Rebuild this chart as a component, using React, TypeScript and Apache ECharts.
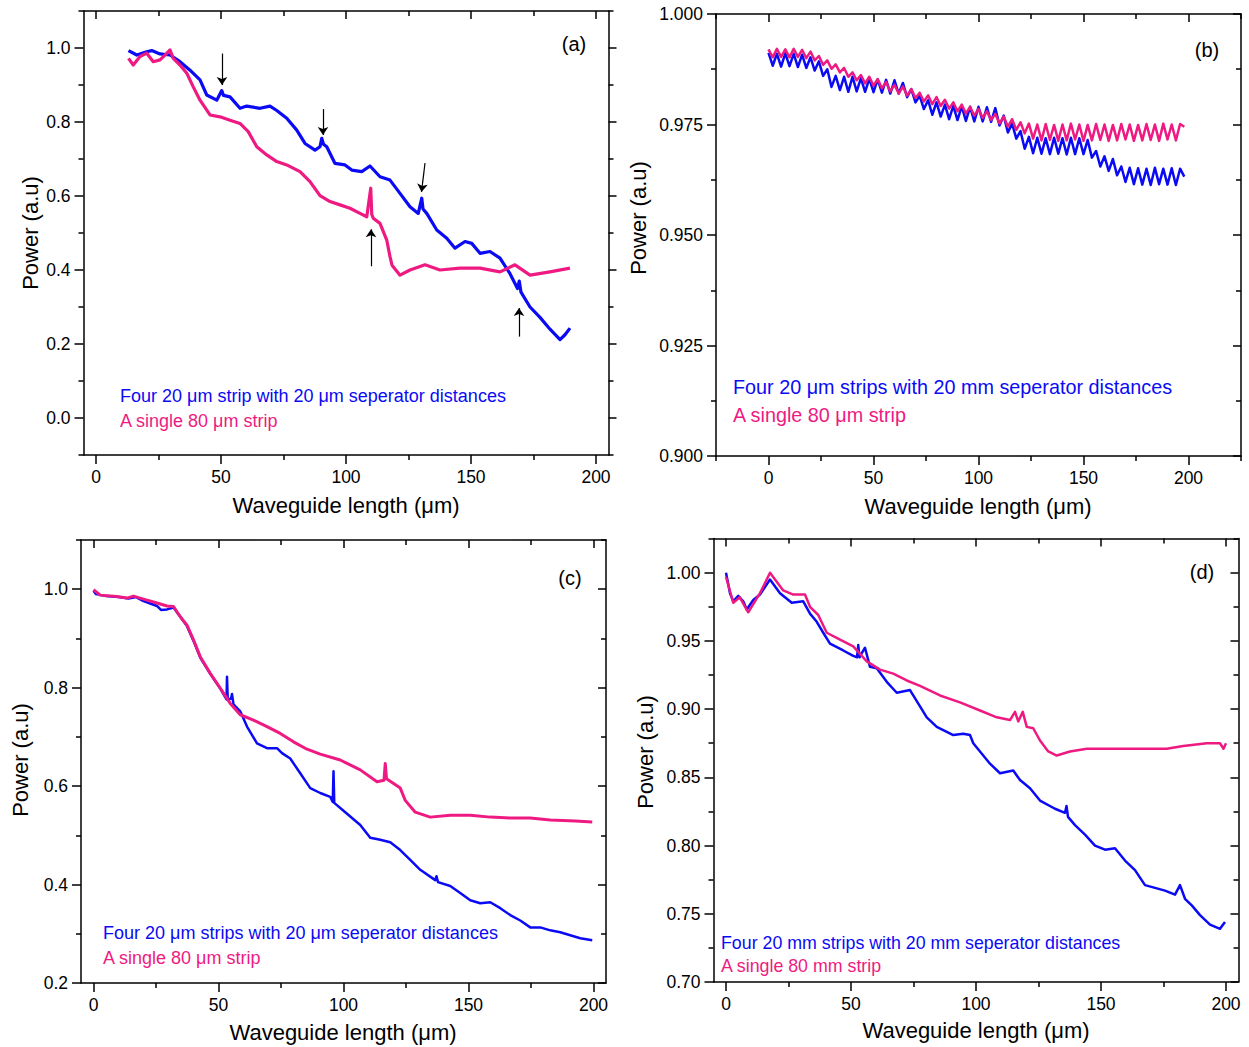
import React, { useEffect, useRef } from 'react';
import * as echarts from 'echarts';

const BLUE = '#0a0af5';
const PINK = '#ee1a82';
const FONT = '"Liberation Sans", Arial, sans-serif';

// ---------- Panel (a) ----------
const aBlue: number[][] = [
  [13, 0.993], [16.3, 0.981], [20.3, 0.99], [22.3, 0.993], [25.6, 0.984], [29.6, 0.981], [33.6, 0.963],
  [37.6, 0.94], [41.6, 0.914], [44.3, 0.873], [48.3, 0.859], [50.3, 0.885], [51, 0.872], [53.6, 0.868],
  [57.6, 0.837], [60.3, 0.843], [65.6, 0.837], [69.6, 0.843], [72.3, 0.831], [76.3, 0.81], [80.3, 0.778],
  [83.6, 0.742], [87.6, 0.724], [89.6, 0.733], [90.3, 0.756], [91, 0.74], [92.3, 0.733], [95.6, 0.688],
  [99.6, 0.684], [102.3, 0.67], [106.3, 0.666], [109.6, 0.681], [113.6, 0.652], [117.6, 0.643], [121.6, 0.607],
  [125.6, 0.571], [128.9, 0.553], [130.3, 0.594], [130.8, 0.565], [132.3, 0.553], [136.3, 0.508], [140.3, 0.486],
  [143.6, 0.459], [147.6, 0.477], [150.3, 0.472], [153.6, 0.445], [157.6, 0.45], [161.6, 0.432], [165.6, 0.39],
  [168.6, 0.35], [169.3, 0.37], [170, 0.34], [173.6, 0.3], [177.6, 0.272], [181.6, 0.24], [185.6, 0.212],
  [187.6, 0.225], [189.6, 0.243],
];
const aPink: number[][] = [
  [13, 0.972], [14.9, 0.954], [17.6, 0.977], [20.3, 0.986], [22.9, 0.963], [25.6, 0.968], [27.6, 0.981],
  [29.6, 0.995], [30.9, 0.972], [33.6, 0.954], [36.3, 0.932], [38.9, 0.895], [41.6, 0.859], [45.6, 0.819],
  [49.6, 0.814], [53.6, 0.805], [57.6, 0.796], [60.9, 0.774], [64.3, 0.733], [68.3, 0.711], [72.3, 0.693],
  [76.3, 0.684], [81.6, 0.666], [85.6, 0.639], [89.6, 0.601], [93.6, 0.585], [97.6, 0.576], [101.6, 0.567],
  [105.6, 0.553], [108.3, 0.544], [109.9, 0.621], [110.3, 0.55], [110.9, 0.54], [113.6, 0.526], [116.3, 0.481],
  [117.6, 0.436], [118.4, 0.413], [121.6, 0.386], [125.6, 0.4], [131.6, 0.414], [137.6, 0.4], [145.6, 0.405],
  [153.6, 0.405], [161.6, 0.395], [167.6, 0.414], [173.6, 0.386], [181.6, 0.395], [189.6, 0.405],
];
const aArrows: number[][][] = [
  [[50.4, 0.985], [50.4, 0.9]],
  [[90.8, 0.835], [90.8, 0.765]],
  [[131.6, 0.689], [130.2, 0.611]],
  [[110, 0.41], [110, 0.51]],
  [[169.2, 0.22], [169.2, 0.297]],
];

// ---------- Panel (b) (sampled every 2 µm, alternating crest / trough) ----------
const bStep = 2;
const bPink: number[] = [
  0.992, 0.9902, 0.9921, 0.9903, 0.992, 0.9902, 0.9921, 0.9903, 0.9919, 0.99,
  0.9915, 0.9895, 0.9905, 0.9885, 0.9895, 0.9876, 0.9886, 0.9868, 0.9878, 0.9858,
  0.9868, 0.985, 0.9862, 0.9843, 0.9858, 0.9838, 0.9853, 0.9832, 0.9846, 0.9825,
  0.984, 0.982, 0.9836, 0.9815, 0.983, 0.981, 0.9822, 0.9802, 0.9816, 0.9796,
  0.9812, 0.9792, 0.9806, 0.9786, 0.98, 0.978, 0.9795, 0.9775, 0.979, 0.977,
  0.9785, 0.9765, 0.978, 0.976, 0.9774, 0.9752, 0.9768, 0.9745, 0.9762, 0.9738,
  0.9755, 0.973, 0.9752, 0.9718, 0.975, 0.9714, 0.9751, 0.9715, 0.9749, 0.9713,
  0.975, 0.9714, 0.9752, 0.9716, 0.975, 0.9713, 0.9749, 0.9714, 0.9751, 0.9715,
  0.975, 0.9713, 0.9749, 0.9714, 0.9751, 0.9716, 0.975, 0.9713, 0.9749, 0.9714,
  0.9751, 0.9715, 0.975, 0.9713, 0.9752, 0.9716, 0.975, 0.9714, 0.9751, 0.9745,
];
const bBlue: number[] = [
  0.9912, 0.9883, 0.991, 0.9881, 0.9911, 0.9882, 0.991, 0.988, 0.9908, 0.9878,
  0.9902, 0.9872, 0.9893, 0.986, 0.9875, 0.9835, 0.986, 0.9828, 0.9858, 0.9824,
  0.9858, 0.9825, 0.9855, 0.9824, 0.9854, 0.9823, 0.9852, 0.9822, 0.9851, 0.982,
  0.985, 0.982, 0.9844, 0.9812, 0.983, 0.98, 0.9815, 0.9785, 0.9805, 0.9772,
  0.98, 0.9768, 0.9795, 0.9762, 0.9792, 0.976, 0.9791, 0.9758, 0.979, 0.9757,
  0.979, 0.9757, 0.9789, 0.9756, 0.9787, 0.9748, 0.977, 0.9732, 0.9752, 0.9718,
  0.9735, 0.9695, 0.9722, 0.9685, 0.972, 0.9684, 0.9719, 0.9683, 0.972, 0.9684,
  0.9719, 0.9682, 0.972, 0.9683, 0.9719, 0.9683, 0.9715, 0.9675, 0.969, 0.9655,
  0.9678, 0.9645, 0.9672, 0.9635, 0.9655, 0.962, 0.9652, 0.9615, 0.9651, 0.9614,
  0.965, 0.9613, 0.9652, 0.9615, 0.965, 0.9614, 0.9651, 0.9613, 0.965, 0.9632,
];

// ---------- Panel (c) ----------
const cBlue: number[][] = [
  [0, 0.997], [1, 0.99], [5, 0.986], [10, 0.984], [14, 0.981], [17, 0.984], [20, 0.976], [25.4, 0.966],
  [27, 0.958], [29.4, 0.959], [32, 0.963], [34.7, 0.944], [37.4, 0.925], [40, 0.895], [42.7, 0.861],
  [46.7, 0.828], [50.7, 0.798], [53.2, 0.776], [53.4, 0.822], [53.7, 0.775], [55, 0.778], [55.4, 0.787],
  [56, 0.766], [58.7, 0.752], [61.4, 0.721], [65.4, 0.687], [69.4, 0.677], [73.4, 0.677], [75.4, 0.667],
  [78.7, 0.656], [82.7, 0.626], [86.7, 0.596], [90.7, 0.586], [94.7, 0.578], [95.7, 0.568], [96, 0.63],
  [96.3, 0.566], [100.7, 0.547], [106.7, 0.521], [110.7, 0.495], [114.7, 0.491], [118.7, 0.486],
  [122.7, 0.47], [126.7, 0.45], [130.7, 0.43], [136.7, 0.409], [137.2, 0.417], [137.8, 0.405],
  [142.7, 0.397], [146.7, 0.383], [150.7, 0.368], [154.7, 0.362], [158.7, 0.364], [162.7, 0.352],
  [166.7, 0.338], [170.7, 0.327], [174.7, 0.313], [178.7, 0.313], [182.7, 0.307], [186.7, 0.303],
  [190.7, 0.297], [194.7, 0.291], [199.5, 0.287],
];
const cPink: number[][] = [
  [0, 0.999], [2.7, 0.988], [9.4, 0.985], [13.4, 0.982], [16, 0.986], [20, 0.98], [25.4, 0.972],
  [29.4, 0.966], [32, 0.965], [34.7, 0.944], [37.4, 0.927], [40, 0.897], [42.7, 0.863], [46.7, 0.829],
  [50.7, 0.799], [54.7, 0.768], [58.7, 0.745], [64, 0.734], [69.4, 0.721], [74.7, 0.707], [80, 0.69],
  [85.4, 0.675], [90.7, 0.665], [98.7, 0.653], [106.7, 0.633], [113.4, 0.609], [116.2, 0.612],
  [116.7, 0.646], [117.2, 0.615], [122.7, 0.596], [124.7, 0.571], [128.7, 0.547], [134.7, 0.537],
  [142.7, 0.541], [150.7, 0.541], [158.7, 0.537], [166.7, 0.535], [174.7, 0.535], [182.7, 0.531],
  [192.7, 0.529], [199.5, 0.527],
];

// ---------- Panel (d) ----------
const dBlue: number[][] = [
  [0, 1.0], [1.6, 0.985], [2.9, 0.979], [4.9, 0.983], [6.9, 0.979], [8.3, 0.973], [10.9, 0.98],
  [13.6, 0.984], [17.6, 0.995], [21.6, 0.985], [26.3, 0.978], [30.9, 0.979], [33.6, 0.97], [36.3, 0.964],
  [38.9, 0.956], [41.6, 0.948], [46.9, 0.943], [50.9, 0.939], [52.4, 0.938], [52.9, 0.947], [53.4, 0.938],
  [54.3, 0.941], [55.6, 0.945], [57.6, 0.931], [60.3, 0.93], [64.3, 0.92], [68.3, 0.912], [73.6, 0.914],
  [77.6, 0.902], [80.3, 0.894], [84.3, 0.887], [90.9, 0.881], [94.9, 0.882], [97.6, 0.881], [98.9, 0.875],
  [101.6, 0.869], [105.6, 0.86], [109.6, 0.853], [114.9, 0.855], [117.6, 0.848], [121.6, 0.842],
  [125.6, 0.833], [131.6, 0.827], [135.6, 0.824], [136.2, 0.829], [136.8, 0.821], [139.6, 0.815],
  [143.6, 0.808], [147.6, 0.8], [151.6, 0.797], [155.6, 0.798], [159.6, 0.789], [163.6, 0.782],
  [167.6, 0.771], [171.6, 0.769], [175.6, 0.767], [179.6, 0.764], [181.6, 0.771], [183.6, 0.761],
  [186.4, 0.756], [189.6, 0.749], [193.6, 0.742], [197.6, 0.739], [199.6, 0.744],
];
const dPink: number[][] = [
  [0, 0.997], [2.9, 0.978], [5.5, 0.982], [8.9, 0.971], [13.6, 0.985], [17.6, 1.0], [22.9, 0.987],
  [26.9, 0.984], [31.6, 0.984], [33.6, 0.975], [36.9, 0.969], [40.3, 0.956], [45.6, 0.951], [50.9, 0.946],
  [56.3, 0.935], [61.6, 0.929], [66.9, 0.926], [72.3, 0.921], [77.6, 0.917], [85.6, 0.91], [93.6, 0.905],
  [101.6, 0.899], [108.3, 0.894], [113.6, 0.892], [115.6, 0.898], [116.9, 0.891], [118.7, 0.898],
  [120.3, 0.887], [122.9, 0.886], [125.6, 0.877], [128.9, 0.869], [132.3, 0.866], [137.6, 0.869],
  [144.3, 0.871], [156.3, 0.871], [169.6, 0.871], [176.3, 0.871], [182.9, 0.873], [192.3, 0.875],
  [197.6, 0.875], [199, 0.871], [200, 0.875],
];

// ---------- Tick values ----------
const xMajor = [0, 50, 100, 150, 200];
const xMinor = [25, 75, 125, 175];
const bxMinor = [-25, 25, 75, 125, 175, 225];
const aYMajor = [0, 0.2, 0.4, 0.6, 0.8, 1.0];
const aYMinor = [-0.1, 0.1, 0.3, 0.5, 0.7, 0.9, 1.1];
const bYMajor = [0.9, 0.925, 0.95, 0.975, 1.0];
const bYMinor = [0.9125, 0.9375, 0.9625, 0.9875];
const cYMajor = [0.2, 0.4, 0.6, 0.8, 1.0];
const cYMinor = [0.3, 0.5, 0.7, 0.9, 1.1];
const dYMajor = [0.7, 0.75, 0.8, 0.85, 0.9, 0.95, 1.0];
const dYMinor = [0.725, 0.775, 0.825, 0.875, 0.925, 0.975, 1.025];

const legendA = ['Four 20 μm strip with 20 μm seperator distances', 'A single 80 μm strip'];
const legendB = ['Four 20 μm strips with 20 mm seperator distances', 'A single 80 μm strip'];
const legendC = ['Four 20 μm strips with 20 μm seperator distances', 'A single 80 μm strip'];
const legendD = ['Four 20 mm strips with 20 mm seperator distances', 'A single 80 mm strip'];

interface Panel {
  grid: { left: number; top: number; width: number; height: number };
  xMin: number; xMax: number; xMin2: number[];
  yMin: number; yMax: number; yMaj: number[]; yMin2: number[]; yDec: number;
  rightInside: boolean;
  series: { data: number[][]; color: string; width: number }[];
  label: string; labelPos: number[];
  legend: string[]; legendPos: number[]; legendSize: number; legendGap: number;
  yNamePos: number[]; xNamePos: number[];
}

function buildOption() {
  const bPinkData = bPink.map((v, i) => [i * bStep, v]);
  const bBlueData = bBlue.map((v, i) => [i * bStep, v]);

  const panels: Panel[] = [
    {
      grid: { left: 83.5, top: 11, width: 525, height: 444 },
      xMin: -5, xMax: 205, xMin2: xMinor, yMin: -0.1, yMax: 1.1, yMaj: aYMajor, yMin2: aYMinor, yDec: 1,
      rightInside: false,
      series: [{ data: aBlue, color: BLUE, width: 3.2 }, { data: aPink, color: PINK, width: 3.2 }],
      label: '(a)', labelPos: [574, 44],
      legend: legendA, legendPos: [120, 396], legendSize: 18, legendGap: 25,
      yNamePos: [30, 233], xNamePos: [346, 505],
    },
    {
      grid: { left: 716, top: 14, width: 525, height: 442 },
      xMin: -25, xMax: 225, xMin2: bxMinor, yMin: 0.9, yMax: 1.0, yMaj: bYMajor, yMin2: bYMinor, yDec: 3,
      rightInside: true,
      series: [{ data: bBlueData, color: BLUE, width: 2.5 }, { data: bPinkData, color: PINK, width: 2.5 }],
      label: '(b)', labelPos: [1207, 50],
      legend: legendB, legendPos: [733, 387], legendSize: 19.8, legendGap: 28,
      yNamePos: [638, 218], xNamePos: [978, 506],
    },
    {
      grid: { left: 81, top: 540, width: 525, height: 443 },
      xMin: -5, xMax: 205, xMin2: xMinor, yMin: 0.2, yMax: 1.1, yMaj: cYMajor, yMin2: cYMinor, yDec: 1,
      rightInside: true,
      series: [{ data: cBlue, color: BLUE, width: 2.5 }, { data: cPink, color: PINK, width: 3 }],
      label: '(c)', labelPos: [570, 578],
      legend: legendC, legendPos: [103, 933], legendSize: 18, legendGap: 25,
      yNamePos: [20, 760], xNamePos: [343, 1032],
    },
    {
      grid: { left: 713.5, top: 538.6, width: 525, height: 443.4 },
      xMin: -5, xMax: 205, xMin2: xMinor, yMin: 0.7, yMax: 1.025, yMaj: dYMajor, yMin2: dYMinor, yDec: 2,
      rightInside: true,
      series: [{ data: dBlue, color: BLUE, width: 2.5 }, { data: dPink, color: PINK, width: 2.5 }],
      label: '(d)', labelPos: [1202, 572],
      legend: legendD, legendPos: [721, 943], legendSize: 17.8, legendGap: 23,
      yNamePos: [645, 752], xNamePos: [976, 1030],
    },
  ];

  const lineStyle = { color: '#000', width: 1.5 };
  const grids: any[] = [];
  const xAxes: any[] = [];
  const yAxes: any[] = [];
  const series: any[] = [];
  const graphics: any[] = [];

  panels.forEach((p, gi) => {
    grids.push({ ...p.grid, containLabel: false });
    const xMainIdx = xAxes.length;
    const xBase = { type: 'value', gridIndex: gi, min: p.xMin, max: p.xMax, splitLine: { show: false } };
    xAxes.push({
      ...xBase, position: 'bottom',
      axisLine: { show: true, onZero: false, lineStyle },
      axisTick: { show: true, inside: false, length: 9, customValues: xMajor, lineStyle },
      axisLabel: { show: true, customValues: xMajor, margin: 13, fontSize: 17.5, color: '#000', fontFamily: FONT },
    });
    xAxes.push({
      ...xBase, position: 'bottom',
      axisLine: { show: false, onZero: false },
      axisTick: { show: true, inside: false, length: 5, customValues: p.xMin2, lineStyle },
      axisLabel: { show: false },
    });
    xAxes.push({
      ...xBase, position: 'top',
      axisLine: { show: true, onZero: false, lineStyle },
      axisTick: { show: true, inside: true, length: 8, customValues: xMajor, lineStyle },
      axisLabel: { show: false },
    });
    xAxes.push({
      ...xBase, position: 'top',
      axisLine: { show: false, onZero: false },
      axisTick: { show: true, inside: true, length: 5, customValues: p.xMin2, lineStyle },
      axisLabel: { show: false },
    });

    const yMainIdx = yAxes.length;
    const yBase = { type: 'value', gridIndex: gi, min: p.yMin, max: p.yMax, splitLine: { show: false } };
    yAxes.push({
      ...yBase, position: 'left',
      axisLine: { show: true, onZero: false, lineStyle },
      axisTick: { show: true, inside: false, length: 9, customValues: p.yMaj, lineStyle },
      axisLabel: {
        show: true, customValues: p.yMaj, margin: 13, fontSize: 17.5, color: '#000', fontFamily: FONT,
        formatter: (v: number) => v.toFixed(p.yDec),
      },
    });
    yAxes.push({
      ...yBase, position: 'left',
      axisLine: { show: false, onZero: false },
      axisTick: { show: true, inside: false, length: 5, customValues: p.yMin2, lineStyle },
      axisLabel: { show: false },
    });
    yAxes.push({
      ...yBase, position: 'right',
      axisLine: { show: true, onZero: false, lineStyle },
      axisTick: { show: true, inside: p.rightInside, length: 8, customValues: p.yMaj, lineStyle },
      axisLabel: { show: false },
    });
    yAxes.push({
      ...yBase, position: 'right',
      axisLine: { show: false, onZero: false },
      axisTick: { show: true, inside: p.rightInside, length: 5, customValues: p.yMin2, lineStyle },
      axisLabel: { show: false },
    });

    p.series.forEach((s, si) => {
      const ser: any = {
        type: 'line', xAxisIndex: xMainIdx, yAxisIndex: yMainIdx, data: s.data,
        showSymbol: false, symbol: 'none', smooth: false,
        lineStyle: { color: s.color, width: s.width, join: 'round' }, itemStyle: { color: s.color },
        z: 3 + si,
      };
      if (gi === 0 && si === 1) {
        ser.markLine = {
          silent: true, symbol: ['none', 'arrow'], symbolSize: 8,
          label: { show: false },
          lineStyle: { color: '#000', width: 1.2, type: 'solid' },
          data: aArrows.map((pair) => [{ coord: pair[0] }, { coord: pair[1] }]),
        };
      }
      series.push(ser);
    });

    graphics.push({
      type: 'text', x: p.labelPos[0], y: p.labelPos[1],
      style: { text: p.label, fontSize: 20, fontFamily: FONT, fill: '#000', textAlign: 'center', textVerticalAlign: 'middle' },
    });
    p.legend.forEach((t, li) => {
      graphics.push({
        type: 'text', x: p.legendPos[0], y: p.legendPos[1] + li * p.legendGap,
        style: { text: t, fontSize: p.legendSize, fontFamily: FONT, fill: li === 0 ? BLUE : PINK, textAlign: 'left', textVerticalAlign: 'middle' },
      });
    });
    graphics.push({
      type: 'text', x: p.yNamePos[0], y: p.yNamePos[1], rotation: Math.PI / 2,
      style: { text: 'Power (a.u)', fontSize: 22, fontFamily: FONT, fill: '#000', textAlign: 'center', textVerticalAlign: 'middle' },
    });
    graphics.push({
      type: 'text', x: p.xNamePos[0], y: p.xNamePos[1],
      style: { text: 'Waveguide length (μm)', fontSize: 22, fontFamily: FONT, fill: '#000', textAlign: 'center', textVerticalAlign: 'middle' },
    });
  });

  return {
    animation: false,
    backgroundColor: '#fff',
    textStyle: { fontFamily: FONT },
    grid: grids,
    xAxis: xAxes,
    yAxis: yAxes,
    series,
    graphic: graphics,
  };
}

export default function App() {
  const ref = useRef<HTMLDivElement>(null);
  useEffect(() => {
    document.body.style.margin = '0';
    const chart = echarts.init(ref.current as HTMLDivElement, null, { renderer: 'svg' });
    chart.setOption(buildOption() as any);
    return () => chart.dispose();
  }, []);
  return <div ref={ref} style={{ width: 1249, height: 1047 }} />;
}
